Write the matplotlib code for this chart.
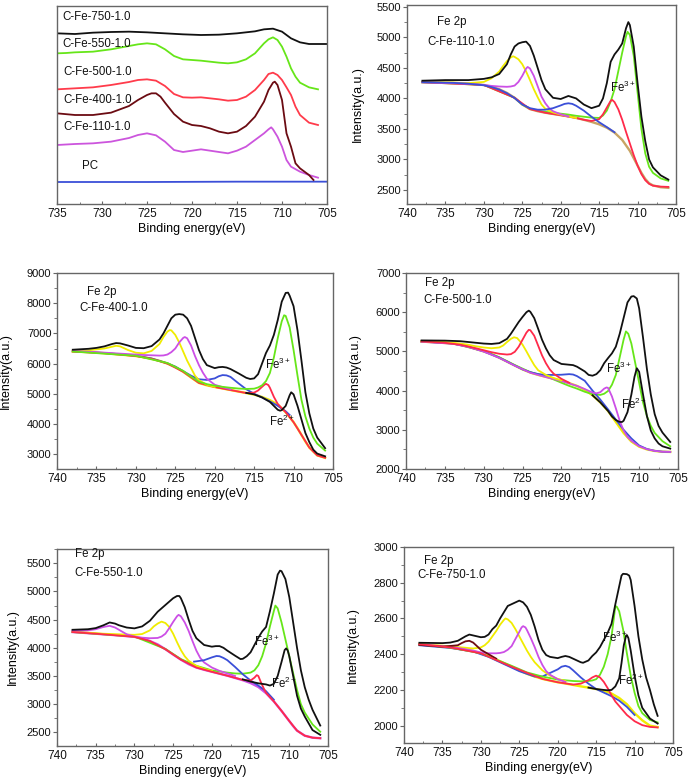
import matplotlib
matplotlib.use("Agg")
import matplotlib.pyplot as plt
from matplotlib.ticker import MultipleLocator

plt.rcParams["font.family"] = ["Liberation Sans", "DejaVu Sans"]
plt.rcParams["mathtext.fontset"] = "custom"
plt.rcParams["mathtext.rm"] = "Liberation Sans"
plt.rcParams["mathtext.it"] = "Liberation Sans:italic"
plt.rcParams["mathtext.bf"] = "Liberation Sans:bold"
plt.rcParams["mathtext.default"] = "regular"

W, H = 689, 780

# ── survey panel (top left), arbitrary intensity ──────────────
s750_e = [735, 733, 731, 729, 727, 725, 723, 721, 719, 717, 715, 713, 712, 711, 710, 709, 708, 707, 706, 705]
s750_v = [513, 511, 515, 517, 518, 516, 513, 510, 508, 509, 513, 519, 525, 527, 518, 498, 486, 481, 481, 481]
s550_e = [735, 734, 733, 731, 729, 727, 726, 725, 724, 723, 722, 721, 720, 719, 718, 717, 716, 715, 714, 713,
          712, 711.5, 711, 710.5, 710, 709.5, 709, 708.5, 708, 707, 706]
s550_v = [453, 454, 456, 458, 465, 475, 480, 483, 480, 465, 445, 435, 433, 431, 428, 425, 423, 426, 435, 453,
          483, 495, 501, 493, 473, 443, 408, 383, 365, 351, 345]
s500_e = [735, 733, 731, 729, 727, 726, 725, 724, 723, 722, 721, 720, 719, 718, 717, 716, 715, 714, 713, 712,
          711.5, 711, 710.5, 710, 709.5, 709, 708.5, 708, 707, 706]
s500_v = [345, 348, 351, 358, 367, 373, 375, 371, 355, 331, 321, 320, 321, 318, 315, 311, 313, 323, 343, 373,
          391, 395, 388, 373, 351, 328, 293, 268, 245, 238]
s400_e = [735, 733, 731, 729, 727, 726, 725, 724.5, 724, 723.5, 723, 722, 721, 720, 719, 718, 717, 716, 715, 714,
          713, 712, 711.5, 711, 710.8, 710.5, 710, 709.5, 709, 708.5, 708, 707, 706.5]
s400_v = [273, 268, 268, 275, 295, 313, 328, 333, 333, 323, 305, 271, 248, 238, 235, 228, 218, 213, 218, 235,
          263, 308, 343, 365, 368, 358, 313, 213, 173, 123, 108, 88, 73]
s110_e = [735, 733, 731, 729, 727, 726, 725, 724, 723, 722, 721, 720, 719, 718, 717, 716, 715, 714, 713, 712,
          711.5, 711.2, 711, 710.5, 710, 709.5, 709, 708, 707, 706]
s110_v = [178, 181, 183, 188, 199, 208, 213, 207, 188, 163, 157, 161, 165, 161, 157, 153, 161, 173, 193, 213,
          225, 231, 225, 203, 173, 133, 113, 98, 88, 80]
spc_e = [735, 725, 715, 705]
spc_v = [67, 67, 68, 68]

# ── C-Fe-110-1.0 ──────────────────────────────────────────────
t_bg_e = [738, 736, 734, 732, 730, 729, 728, 727, 726, 725, 724, 723, 722, 721, 720, 719, 718, 717, 716, 715,
          714, 713, 712, 711, 710, 709.5, 709, 708.5, 708, 707, 706]
t_bg_v = [4265, 4262, 4255, 4240, 4220, 4190, 4150, 4090, 4010, 3900, 3825, 3790, 3765, 3745, 3725, 3705, 3680,
          3650, 3615, 3575, 3520, 3440, 3320, 3140, 2900, 2780, 2680, 2610, 2575, 2545, 2535]
t_blk_e = [738, 735, 732, 730, 729, 728, 727, 726.5, 726, 725.5, 725, 724.5, 724, 723.5, 723, 722.5, 722, 721,
           720, 719, 718, 717, 716, 715, 714.5, 714, 713.5, 713, 712.5, 712, 711.5, 711.2, 711, 710.5, 710,
           709.5, 709, 708.5, 708, 707, 706]
t_blk_v = [4290, 4300, 4300, 4320, 4345, 4400, 4560, 4720, 4850, 4900, 4920, 4930, 4860, 4700, 4500, 4300, 4150,
           4010, 3990, 4040, 4000, 3900, 3840, 3880, 4000, 4250, 4600, 4720, 4800, 4900, 5150, 5250, 5200, 4850,
           4250, 3700, 3300, 3000, 2870, 2740, 2670]
t_yel_e = [738, 734, 732, 730, 729, 728, 727.5, 727, 726.5, 726.2, 726, 725.5, 725, 724.5, 724, 723.5, 723,
           722.5, 722, 721, 720, 719, 718]
t_yel_v = [4270, 4260, 4250, 4270, 4330, 4440, 4530, 4610, 4670, 4690, 4680, 4640, 4560, 4440, 4300, 4150, 4020,
           3900, 3830, 3770, 3735, 3705, 3680]
t_mag_e = [738, 732, 730, 729, 728, 727, 726.5, 726, 725.5, 725, 724.5, 724.3, 724, 723.5, 723, 722.5, 722,
           721.5, 721, 720, 719]
t_mag_v = [4265, 4240, 4220, 4205, 4195, 4190, 4195, 4210, 4270, 4370, 4490, 4515, 4490, 4370, 4200, 4030, 3920,
           3840, 3790, 3740, 3705]
t_blu_e = [738, 734, 732, 730, 729, 728, 727, 726, 725, 724, 723, 722, 721, 720, 719.5, 719, 718.5, 718, 717,
           716, 715, 714, 713]
t_blu_v = [4265, 4255, 4240, 4215, 4185, 4145, 4085, 4005, 3900, 3840, 3815, 3815, 3840, 3885, 3910, 3920, 3910,
           3880, 3800, 3700, 3610, 3530, 3445]
t_grn_e = [738, 730, 726, 725, 724, 723, 722, 721, 720, 719, 718, 717, 716, 715, 714.5, 714, 713.5, 713, 712.5,
           712, 711.5, 711.3, 711, 710.5, 710, 709.5, 709, 708.5, 708, 707, 706]
t_grn_v = [4265, 4220, 4010, 3900, 3830, 3800, 3780, 3765, 3750, 3735, 3715, 3700, 3685, 3680, 3720, 3800, 3950,
           4150, 4450, 4750, 5020, 5090, 5040, 4700, 4100, 3500, 3100, 2880, 2780, 2690, 2650]
t_red_e = [738, 730, 726, 724, 722, 720, 718, 717, 716, 715, 714.5, 714, 713.5, 713.3, 713, 712.5, 712, 711.5,
           711, 710.5, 710, 709.5, 709, 708.5, 708, 707, 706]
t_red_v = [4265, 4220, 4010, 3825, 3765, 3725, 3680, 3650, 3630, 3660, 3740, 3850, 3960, 3975, 3940, 3820, 3650,
           3450, 3260, 3070, 2900, 2760, 2660, 2600, 2570, 2555, 2550]

# ── C-Fe-400-1.0 ──────────────────────────────────────────────
m_bg_e = [738, 736, 734, 732, 730, 729, 728, 727, 726, 725, 724, 723, 722, 721, 720, 719, 718, 717, 716, 715,
          714, 713, 712, 711, 710.5, 710, 709.5, 709, 708.5, 708, 707, 706]
m_bg_v = [6400, 6380, 6345, 6300, 6250, 6210, 6160, 6090, 6000, 5890, 5730, 5540, 5360, 5280, 5225, 5175, 5125,
          5075, 5025, 4975, 4895, 4790, 4640, 4390, 4230, 4060, 3860, 3640, 3420, 3220, 2960, 2880]
m_red_e = [738, 734, 730, 728, 726, 724, 722, 720, 718, 716, 715, 714.5, 714, 713.7, 713.5, 713.2, 713, 712.5,
           712, 711, 710, 709, 708, 707, 706]
m_red_v = [6400, 6345, 6250, 6160, 6000, 5730, 5360, 5225, 5125, 5025, 5040, 5110, 5230, 5300, 5330, 5290, 5200,
           4900, 4660, 4390, 4060, 3640, 3220, 2960, 2880]
m_blk_e = [738, 736, 735, 734, 733, 732.5, 732, 731, 730, 729, 728, 727, 726.5, 726, 725.5, 725, 724.5, 724,
           723.5, 723, 722.5, 722, 721.5, 721, 720, 719.5, 719, 718.5, 718, 717, 716, 715.5, 715, 714.5, 714,
           713.5, 713, 712.5, 712, 711.5, 711, 710.7, 710.5, 710, 709.5, 709, 708.5, 708, 707.5, 707, 706]
m_blk_v = [6460, 6490, 6520, 6570, 6650, 6680, 6670, 6600, 6520, 6510, 6580, 6800, 7000, 7250, 7500, 7620, 7640,
           7620, 7500, 7250, 6850, 6450, 6150, 5950, 5850, 5880, 5890, 5870, 5820, 5680, 5530, 5490, 5510, 5650,
           6000, 6350, 6600, 6950, 7450, 8050, 8340, 8350, 8250, 7900, 7100, 6100, 5050, 4350, 3850, 3550, 3200]
m_yel_e = [738, 736, 734, 733, 732.5, 732, 731, 730, 729, 728, 727, 726.5, 726, 725.7, 725.5, 725, 724.5, 724,
           723.5, 723, 722.5, 722, 721, 720]
m_yel_v = [6420, 6440, 6500, 6560, 6590, 6570, 6450, 6360, 6340, 6420, 6650, 6880, 7060, 7110, 7100, 6950, 6700,
           6400, 6100, 5850, 5600, 5450, 5300, 5230]
m_mag_e = [738, 735, 732, 730, 729, 728, 727, 726.5, 726, 725.5, 725, 724.5, 724, 723.8, 723.5, 723, 722.5, 722,
           721.5, 721, 720, 719, 718]
m_mag_v = [6420, 6380, 6330, 6300, 6285, 6275, 6265, 6270, 6300, 6380, 6500, 6700, 6850, 6880, 6840, 6600, 6250,
           5950, 5700, 5500, 5300, 5220, 5150]
m_blu_e = [738, 734, 732, 730, 728, 726, 725, 724, 723, 722, 721, 720, 719.5, 719, 718.5, 718, 717, 716, 715,
           714, 713, 712, 711, 710.5]
m_blu_v = [6410, 6350, 6310, 6260, 6170, 6010, 5900, 5750, 5600, 5480, 5460, 5510, 5580, 5620, 5610, 5560, 5350,
           5150, 5000, 4880, 4750, 4600, 4420, 4300]
m_grn_e = [738, 730, 726, 724, 723, 722, 721, 720, 719, 718, 717, 716, 715, 714.5, 714, 713.5, 713, 712.5, 712,
           711.5, 711.2, 711, 710.5, 710, 709.5, 709, 708.5, 708, 707.5, 707, 706]
m_grn_v = [6400, 6260, 6020, 5760, 5570, 5400, 5320, 5270, 5230, 5200, 5175, 5160, 5170, 5210, 5280, 5420, 5690,
           6200, 6850, 7400, 7600, 7580, 7200, 6450, 5600, 4800, 4250, 3850, 3550, 3350, 3120]
m_fe2_e = [716, 715, 714, 713, 712.5, 712, 711.7, 711.5, 711, 710.5, 710.3, 710, 709.5, 709, 708.5, 708, 707.5,
           707, 706]
m_fe2_v = [5030, 4980, 4880, 4730, 4600, 4470, 4440, 4460, 4600, 4950, 5050, 4980, 4600, 4150, 3700, 3400, 3150,
           3020, 2930]

# ── C-Fe-500-1.0 ──────────────────────────────────────────────
r_bg_e = [738, 736, 734, 733, 732, 731, 730, 729, 728, 727, 726, 725, 724, 723, 722, 721, 720, 719, 718, 717,
          716, 715, 714, 713, 712, 711, 710, 709, 708, 707, 706]
r_bg_v = [5250, 5230, 5200, 5170, 5120, 5060, 5000, 4930, 4840, 4740, 4640, 4540, 4460, 4400, 4350, 4300, 4250,
          4190, 4120, 4020, 3880, 3700, 3480, 3200, 2920, 2700, 2570, 2500, 2460, 2440, 2435]
r_blk_e = [738, 735, 733, 731, 730, 729, 728, 727, 726.5, 726, 725.5, 725, 724.5, 724.2, 724, 723.5, 723, 722.5,
           722, 721.5, 721, 720, 719, 718.5, 718, 717, 716.5, 716, 715.5, 715, 714.5, 714, 713.5, 713, 712.5,
           712, 711.5, 711, 710.7, 710.3, 710, 709.5, 709, 708.5, 708, 707.5, 707, 706]
r_blk_v = [5280, 5275, 5260, 5220, 5200, 5190, 5210, 5320, 5450, 5600, 5750, 5880, 6000, 6040, 6010, 5850, 5580,
           5300, 5080, 4900, 4780, 4680, 4660, 4650, 4610, 4490, 4400, 4380, 4420, 4520, 4700, 4830, 4950, 5120,
           5450, 5850, 6250, 6400, 6410, 6350, 6100, 5350, 4550, 3900, 3400, 3100, 2930, 2690]
r_yel_e = [738, 735, 733, 732, 731, 730, 729, 728, 727.5, 727, 726.5, 726.1, 725.7, 725.3, 725, 724.5, 724,
           723.5, 723, 722, 721, 720]
r_yel_v = [5260, 5240, 5200, 5170, 5130, 5100, 5080, 5100, 5150, 5240, 5320, 5360, 5340, 5250, 5170, 5000, 4820,
           4650, 4520, 4400, 4320, 4260]
r_red_e = [738, 735, 733, 731, 730, 729, 728, 727, 726.5, 726, 725.5, 725, 724.5, 724.2, 724, 723.5, 723, 722.5,
           722, 721.5, 721, 720, 719]
r_red_v = [5255, 5220, 5170, 5080, 5030, 4980, 4940, 4920, 4930, 4990, 5120, 5300, 5480, 5550, 5540, 5400, 5150,
           4900, 4700, 4540, 4430, 4300, 4200]
r_blu_e = [738, 734, 732, 730, 728, 726, 725, 724, 723, 722, 721, 720, 719, 718.5, 718, 717, 716, 715, 714, 713,
           712, 711, 710, 709, 708, 707, 706]
r_blu_v = [5250, 5200, 5120, 5000, 4840, 4640, 4540, 4470, 4420, 4400, 4400, 4405, 4420, 4410, 4370, 4250, 4000,
           3770, 3520, 3260, 3000, 2780, 2600, 2510, 2465, 2442, 2437]
r_mag_e = [738, 734, 732, 730, 728, 726, 724, 722, 720, 718, 717, 716, 715.5, 715, 714.5, 714.2, 714, 713.5,
           713, 712.5, 712, 711.5, 711, 710, 709, 708, 707, 706]
r_mag_v = [5245, 5195, 5115, 4995, 4835, 4635, 4455, 4345, 4245, 4120, 4040, 3950, 3930, 3960, 4050, 4080, 4070,
           3850, 3550, 3230, 2980, 2820, 2720, 2580, 2505, 2462, 2441, 2436]
r_grn_e = [738, 734, 730, 728, 726, 724, 722, 720, 719, 718, 717, 716, 715, 714.5, 714, 713.5, 713, 712.5, 712,
           711.7, 711.4, 711, 710.5, 710, 709.5, 709, 708.5, 708, 707, 706]
r_grn_v = [5255, 5205, 5010, 4850, 4650, 4470, 4370, 4200, 4120, 4050, 3970, 3910, 3890, 3920, 3990, 4150, 4400,
           4850, 5300, 5510, 5450, 5200, 4700, 4200, 3700, 3350, 3100, 2920, 2710, 2580]
r_fe2_e = [716, 715, 714, 713.5, 713, 712.5, 712.2, 712, 711.5, 711, 710.6, 710.3, 710, 709.5, 709, 708.5, 708,
           707.5, 707, 706]
r_fe2_v = [3880, 3700, 3480, 3340, 3250, 3200, 3200, 3230, 3450, 3900, 4350, 4570, 4480, 3900, 3350, 2980, 2780,
           2650, 2580, 2520]

# ── C-Fe-550-1.0 ──────────────────────────────────────────────
b_bg_e = [738, 736, 734, 732, 730, 729, 728, 727, 726, 725, 724, 723, 722, 721, 720, 719, 718, 717, 716, 715,
          714, 713, 712, 711, 710, 709.5, 709, 708, 707, 706]
b_bg_v = [4280, 4260, 4240, 4220, 4195, 4165, 4120, 4060, 3975, 3880, 3790, 3710, 3650, 3610, 3575, 3540, 3505,
          3465, 3425, 3375, 3305, 3195, 3050, 2880, 2700, 2610, 2530, 2440, 2405, 2395]
b_red_e = [738, 734, 730, 728, 726, 724, 722, 720, 718, 716, 715, 714.5, 714.2, 714, 713.7, 713.3, 713, 712, 711,
           710, 709, 708, 707, 706]
b_red_v = [4280, 4240, 4195, 4120, 3975, 3790, 3650, 3575, 3505, 3430, 3420, 3470, 3515, 3500, 3400, 3280, 3200,
           3050, 2880, 2700, 2530, 2440, 2405, 2395]
b_blk_e = [738, 736, 735, 734, 733.2, 732.5, 732, 731, 730, 729, 728, 727, 726, 725.5, 725, 724.5, 724.2, 724,
           723.5, 723, 722.5, 722, 721, 720, 719.5, 719, 718.5, 718, 717, 716.3, 716, 715.5, 715, 714.5, 714,
           713.5, 713, 712.5, 712, 711.5, 711.2, 711, 710.5, 710, 709.5, 709, 708.5, 708, 707.5, 707, 706]
b_blk_v = [4320, 4330, 4350, 4400, 4450, 4430, 4400, 4360, 4345, 4380, 4480, 4640, 4760, 4820, 4880, 4920, 4920,
           4880, 4720, 4500, 4300, 4170, 4050, 4020, 4030, 4030, 4000, 3950, 3860, 3800, 3805, 3850, 3920, 4050,
           4180, 4290, 4370, 4650, 4960, 5300, 5370, 5360, 5220, 4900, 4450, 4000, 3600, 3300, 3080, 2900, 2620]
b_mag_e = [738, 736, 735, 734, 733.2, 732.5, 732, 731, 730, 729, 728, 727, 726.5, 726, 725.5, 725, 724.5, 724.3,
           724, 723.5, 723, 722.5, 722, 721.5, 721, 720, 719, 718, 717]
b_mag_v = [4300, 4310, 4330, 4370, 4390, 4360, 4320, 4240, 4200, 4180, 4170, 4175, 4200, 4250, 4350, 4460, 4560,
           4585, 4560, 4450, 4300, 4120, 3950, 3820, 3740, 3650, 3590, 3545, 3500]
b_yel_e = [738, 736, 734, 732, 730, 729, 728, 727.5, 727, 726.5, 726, 725.5, 725, 724.5, 724, 723.5, 723, 722,
           721, 720]
b_yel_v = [4290, 4270, 4250, 4240, 4230, 4245, 4310, 4380, 4430, 4465, 4440, 4370, 4250, 4100, 3960, 3850, 3770,
           3680, 3625, 3590]
b_blu_e = [722.3, 722, 721, 720, 719.4, 719, 718.5, 718, 717, 716, 715, 714, 713, 712]
b_blu_v = [3755, 3760, 3780, 3830, 3855, 3850, 3820, 3780, 3660, 3530, 3420, 3330, 3230, 3080]
b_grn_e = [738, 730, 726, 724, 722, 720, 718, 717, 716, 715, 714.5, 714, 713.5, 713, 712.5, 712, 711.8, 711.5,
           711, 710.5, 710, 709.5, 709, 708.5, 708, 707, 706]
b_grn_v = [4280, 4200, 3980, 3800, 3680, 3600, 3560, 3545, 3540, 3560, 3600, 3690, 3850, 4080, 4380, 4650, 4750,
           4700, 4450, 4150, 3850, 3550, 3250, 3000, 2850, 2640, 2510]
b_fe2_e = [716, 715, 714, 713, 712.5, 712, 711.5, 711, 710.6, 710.4, 710.2, 710, 709.5, 709, 708.5, 708, 707, 706]
b_fe2_v = [3440, 3400, 3370, 3350, 3330, 3360, 3500, 3750, 3960, 3990, 3950, 3850, 3500, 3150, 2920, 2780, 2540,
           2455]

# ── C-Fe-750-1.0 ──────────────────────────────────────────────
w_bg_e = [738, 736, 734, 732, 731, 730, 729, 728, 727, 726, 725, 724, 723, 722, 721, 720, 719, 718, 717, 716,
          715, 714, 713, 712, 711, 710, 709.5, 709, 708, 707]
w_bg_v = [2456, 2448, 2438, 2425, 2418, 2405, 2390, 2370, 2350, 2330, 2310, 2290, 2275, 2262, 2252, 2243, 2236,
          2228, 2220, 2213, 2205, 2195, 2180, 2155, 2120, 2070, 2050, 2030, 2000, 1992]
w_red_e = [738, 734, 730, 726, 722, 720, 718, 717, 716.5, 716, 715.5, 715, 714.5, 714, 713.5, 713, 712.5, 712,
           711.5, 711, 710, 709, 708, 707]
w_red_v = [2456, 2438, 2405, 2330, 2262, 2243, 2230, 2235, 2245, 2255, 2270, 2280, 2270, 2245, 2210, 2170, 2135,
           2110, 2085, 2060, 2025, 2003, 1993, 1990]
w_blk_e = [738, 735, 734, 733, 732, 731.5, 731, 730, 729.5, 729, 728.5, 728, 727.5, 727, 726.5, 726, 725.5, 725,
           724.5, 724, 723.5, 723, 722.5, 722, 721.5, 721, 720, 719.5, 719, 718.5, 718, 717, 716.7, 716, 715.5,
           715, 714.5, 714, 713.5, 713, 712.5, 712, 711.7, 711.5, 711, 710.7, 710.5, 710, 709.5, 709, 708.5,
           708, 707.5, 707]
w_blk_v = [2464, 2462, 2465, 2475, 2500, 2510, 2505, 2495, 2497, 2510, 2540, 2560, 2600, 2635, 2670, 2680, 2690,
           2700, 2690, 2665, 2620, 2555, 2480, 2425, 2395, 2385, 2378, 2385, 2390, 2385, 2375, 2355, 2352, 2365,
           2390, 2410, 2440, 2480, 2520, 2570, 2680, 2780, 2840, 2850, 2848, 2840, 2815, 2670, 2500, 2370, 2270,
           2200, 2120, 2055]
w_yel_e = [738, 735, 733, 731, 730, 729.5, 729, 728.5, 728, 727.5, 727, 726.8, 726.5, 726, 725.5, 725, 724.5,
           724, 723.5, 723, 722, 721, 720, 719]
w_yel_v = [2455, 2448, 2440, 2432, 2438, 2450, 2470, 2500, 2530, 2565, 2592, 2600, 2595, 2575, 2540, 2500, 2460,
           2420, 2385, 2355, 2310, 2280, 2262, 2250]
w_mag_e = [738, 735, 733, 731, 730, 729, 728, 727.5, 727, 726.5, 726, 725.5, 725, 724.7, 724.5, 724.2, 724,
           723.5, 723, 722.5, 722, 721.5, 721, 720, 719]
w_mag_v = [2455, 2445, 2435, 2420, 2410, 2405, 2405, 2407, 2412, 2425, 2445, 2485, 2525, 2550, 2557, 2550, 2535,
           2490, 2440, 2385, 2340, 2305, 2285, 2260, 2245]
w_mar_e = [738, 735, 733, 732.5, 732, 731.5, 731, 730.5, 730, 729, 728]
w_mar_v = [2452, 2442, 2450, 2462, 2472, 2475, 2465, 2445, 2425, 2400, 2375]
w_blu_e = [738, 734, 731, 729, 727, 725, 723, 722, 721.5, 721, 720, 719.5, 719, 718.5, 718, 717, 716, 715, 714,
           713, 712, 711, 710]
w_blu_v = [2450, 2435, 2415, 2385, 2345, 2305, 2275, 2275, 2285, 2295, 2315, 2330, 2335, 2328, 2310, 2270, 2235,
           2205, 2185, 2165, 2140, 2105, 2060]
w_grn_e = [738, 734, 730, 726, 724, 722, 720, 718, 717, 716, 715.5, 715, 714.5, 714, 713.5, 713, 712.7, 712.5,
           712.3, 712, 711.5, 711, 710.5, 710, 709.5, 709, 708, 707]
w_grn_v = [2455, 2437, 2405, 2335, 2298, 2275, 2258, 2250, 2248, 2250, 2253, 2260, 2285, 2330, 2400, 2500, 2600,
           2670, 2665, 2640, 2540, 2405, 2280, 2185, 2110, 2070, 2032, 2018]
w_fe2_e = [716, 715, 714, 713.5, 713, 712.5, 712, 711.7, 711.4, 711.1, 711, 710.8, 710.5, 710, 709.5, 709, 708, 707]
w_fe2_v = [2213, 2205, 2200, 2198, 2200, 2220, 2265, 2350, 2450, 2505, 2507, 2490, 2420, 2280, 2170, 2100, 2040,
           2012]

# ── colours ───────────────────────────────────────────────────
BLACK, YEL, MAG, BLU = "#111111", "#f0ec00", "#cc4fe6", "#3b4fd8"
GRN, RED, TAN, MAR = "#66e619", "#ff2a4a", "#c8a464", "#6b0b12"
SPINE = "#666666"
LW = 1.3


def add_panel(l, t, r, b):
    ax = fig.add_axes([l / W, 1 - b / H, (r - l) / W, (b - t) / H])
    for s in ax.spines.values():
        s.set_color(SPINE)
        s.set_linewidth(1.0)
    ax.xaxis.set_major_locator(MultipleLocator(5))
    ax.xaxis.set_minor_locator(MultipleLocator(2.5))
    ax.tick_params(axis="x", which="both", direction="in", colors=SPINE,
                   labelcolor="#111111", labelsize=8.5, pad=3)
    ax.tick_params(axis="x", which="major", length=2.5)
    ax.tick_params(axis="x", which="minor", length=1.5)
    ax.tick_params(axis="y", which="both", direction="out", colors=SPINE,
                   labelcolor="#111111", labelsize=8, pad=1)
    ax.tick_params(axis="y", which="major", length=3)
    ax.tick_params(axis="y", which="minor", length=2)
    ax.set_xlabel("Binding energy(eV)", fontsize=9, labelpad=2)
    return ax


fig = plt.figure(figsize=(W / 100, H / 100), dpi=100)

# ── top left survey ───────────────────────────────────────────
ax = add_panel(57, 6, 327, 204)
ax.plot(spc_e, spc_v, color=BLU, lw=LW)
ax.plot(s110_e, s110_v, color="#cc55dd", lw=LW)
ax.plot(s400_e, s400_v, color=MAR, lw=LW)
ax.plot(s500_e, s500_v, color="#ff3b4b", lw=LW)
ax.plot(s550_e, s550_v, color=GRN, lw=LW)
ax.plot(s750_e, s750_v, color=BLACK, lw=LW)
ax.set_xlim(735, 705)
ax.set_ylim(1, 595)
ax.set_yticks([])
for txt, xe, yi in [("C-Fe-750-1.0", 734.4, 562), ("C-Fe-550-1.0", 734.4, 481),
                    ("C-Fe-500-1.0", 734.3, 397), ("C-Fe-400-1.0", 734.3, 313),
                    ("C-Fe-110-1.0", 734.3, 232), ("PC", 732.2, 115)]:
    ax.text(xe, yi, txt, fontsize=8.3, va="center", ha="left", color="#111111")


def label_block(ax, name, fe2p, namep, fe3p, fe2pos=None):
    ax.text(*fe2p, "Fe 2p", fontsize=8.3, va="center", ha="left", color="#111111")
    ax.text(*namep, name, fontsize=8.3, va="center", ha="left", color="#111111")
    ax.text(*fe3p, r"Fe$^{3+}$", fontsize=8.3, va="center", ha="left", color="#111111")
    if fe2pos is not None:
        ax.text(*fe2pos, r"Fe$^{2+}$", fontsize=8.3, va="center", ha="left", color="#111111")


def finish(ax, ylim, major, pad):
    ax.set_xlim(740, 705)
    ax.set_ylim(*ylim)
    ax.yaxis.set_major_locator(MultipleLocator(major))
    ax.yaxis.set_minor_locator(MultipleLocator(major / 2))
    ax.set_ylabel("Intensity(a.u.)", fontsize=9, labelpad=pad)


# ── C-Fe-110-1.0 ──────────────────────────────────────────────
ax = add_panel(407, 5, 676, 204)
ax.plot(t_bg_e, t_bg_v, color=TAN, lw=LW + 0.4)
ax.plot(t_grn_e, t_grn_v, color=GRN, lw=LW)
ax.plot(t_red_e, t_red_v, color=RED, lw=LW)
ax.plot(t_yel_e, t_yel_v, color=YEL, lw=LW)
ax.plot(t_mag_e, t_mag_v, color=MAG, lw=LW)
ax.plot(t_blu_e, t_blu_v, color=BLU, lw=LW)
ax.plot(t_blk_e, t_blk_v, color=BLACK, lw=LW)
finish(ax, (2270, 5530), 500, 9)
label_block(ax, "C-Fe-110-1.0", (736.1, 5254), (737.3, 4926), (713.6, 4172))

# ── C-Fe-400-1.0 ──────────────────────────────────────────────
ax = add_panel(57, 273, 333, 469)
ax.plot(m_bg_e, m_bg_v, color=YEL, lw=LW + 0.4)
ax.plot(m_blu_e, m_blu_v, color=BLU, lw=LW)
ax.plot(m_red_e, m_red_v, color=RED, lw=LW)
ax.plot(m_yel_e, m_yel_v, color=YEL, lw=LW)
ax.plot(m_mag_e, m_mag_v, color=MAG, lw=LW)
ax.plot(m_grn_e, m_grn_v, color=GRN, lw=LW)
ax.plot(m_fe2_e, m_fe2_v, color=BLACK, lw=LW)
ax.plot(m_blk_e, m_blk_v, color=BLACK, lw=LW)
finish(ax, (2510, 9000), 1000, 11)
label_block(ax, "C-Fe-400-1.0", (736.2, 8380), (737.1, 7850), (713.6, 5960), (713.1, 4070))

# ── C-Fe-500-1.0 ──────────────────────────────────────────────
ax = add_panel(406, 273, 678, 469)
ax.plot(r_bg_e, r_bg_v, color=YEL, lw=LW + 0.4)
ax.plot(r_grn_e, r_grn_v, color=GRN, lw=LW)
ax.plot(r_blu_e, r_blu_v, color=BLU, lw=LW)
ax.plot(r_mag_e, r_mag_v, color=MAG, lw=LW)
ax.plot(r_yel_e, r_yel_v, color=YEL, lw=LW)
ax.plot(r_red_e, r_red_v, color=RED, lw=LW)
ax.plot(r_fe2_e, r_fe2_v, color=BLACK, lw=LW)
ax.plot(r_blk_e, r_blk_v, color=BLACK, lw=LW)
finish(ax, (2000, 7000), 1000, 11)
label_block(ax, "C-Fe-500-1.0", (737.6, 6753), (737.7, 6319), (714.3, 4559), (712.3, 3640))

# ── C-Fe-550-1.0 ──────────────────────────────────────────────
ax = add_panel(57, 549, 328, 746)
ax.plot(b_bg_e, b_bg_v, color=MAG, lw=LW + 0.4)
ax.plot(b_grn_e, b_grn_v, color=GRN, lw=LW)
ax.plot(b_yel_e, b_yel_v, color=YEL, lw=LW)
ax.plot(b_mag_e, b_mag_v, color=MAG, lw=LW)
ax.plot(b_blu_e, b_blu_v, color=BLU, lw=LW)
ax.plot(b_red_e, b_red_v, color=RED, lw=LW)
ax.plot(b_fe2_e, b_fe2_v, color=BLACK, lw=LW)
ax.plot(b_blk_e, b_blk_v, color=BLACK, lw=LW)
finish(ax, (2257, 5754), 500, 6)
label_block(ax, "C-Fe-550-1.0", (737.7, 5665), (737.8, 5328), (714.5, 4121), (712.4, 3375))

# ── C-Fe-750-1.0 ──────────────────────────────────────────────
ax = add_panel(404, 547, 673, 743)
ax.plot(w_bg_e, w_bg_v, color=YEL, lw=LW + 0.4)
ax.plot(w_blu_e, w_blu_v, color=BLU, lw=LW)
ax.plot(w_grn_e, w_grn_v, color=GRN, lw=LW)
ax.plot(w_yel_e, w_yel_v, color=YEL, lw=LW)
ax.plot(w_mag_e, w_mag_v, color=MAG, lw=LW)
ax.plot(w_mar_e, w_mar_v, color=MAR, lw=LW)
ax.plot(w_red_e, w_red_v, color=RED, lw=LW)
ax.plot(w_fe2_e, w_fe2_v, color=BLACK, lw=LW)
ax.plot(w_blk_e, w_blk_v, color=BLACK, lw=LW)
finish(ax, (1903, 3000), 200, 11)
label_block(ax, "C-Fe-750-1.0", (737.4, 2920), (738.2, 2842), (714.2, 2496), (712.2, 2255))

fig.savefig("out.png", dpi=100)
